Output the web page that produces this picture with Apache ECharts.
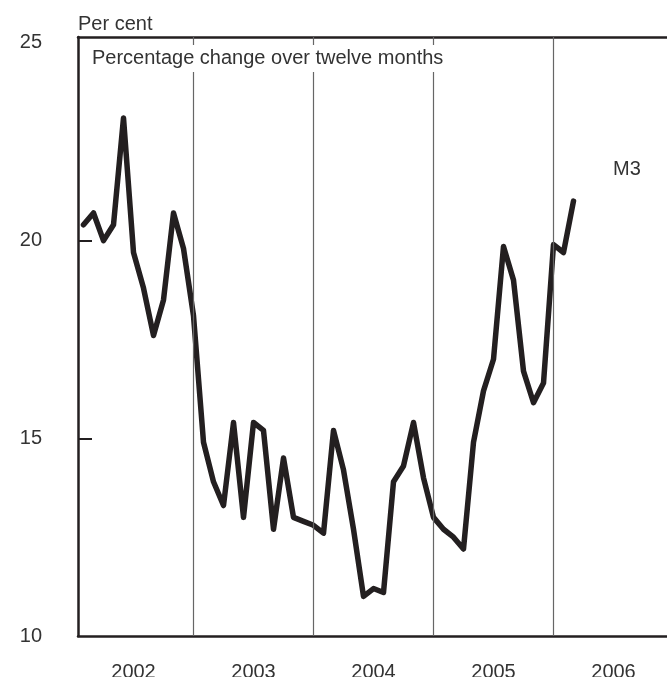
<!DOCTYPE html>
<html>
<head>
<meta charset="utf-8">
<script src="https://cdn.jsdelivr.net/npm/echarts@6/dist/echarts.min.js"></script>
<style>
  html, body { margin: 0; padding: 0; background: #fff; }
  #m3Line { width: 667px; height: 677px; }
</style>
</head>
<body>
<div id="m3Line"></div>
<script>
// monthly, Jan 2002 .. Feb 2006, percentage change over twelve months
const years = ['2002', '2003', '2004', '2005', '2006'];
const yTicks = [10, 15, 20, 25];
const m3 = [
  20.4, 20.7, 20.0, 20.4, 23.1, 19.7, 18.8, 17.6, 18.5, 20.7, 19.8, 18.1,
  14.9, 13.9, 13.3, 15.4, 13.0, 15.4, 15.2, 12.7, 14.5, 13.0, 12.9, 12.8,
  12.6, 15.2, 14.2, 12.7, 11.0, 11.2, 11.1, 13.9, 14.3, 15.4, 14.0, 13.0,
  12.7, 12.5, 12.2, 14.9, 16.2, 17.0, 19.85, 19.0, 16.7, 15.9, 16.4, 19.9,
  19.7, 21.0
];

// x axis runs in months from start of 2002; points sit at month end
const yearMid = years.map((y, i) => i * 12 + 6);
const yearEdges = [12, 24, 36, 48];
const points = m3.map((v, i) => [i + 1, v]);

const font = 'Liberation Sans, Arial, sans-serif';
const ink = '#231f20';

const chart = echarts.init(document.getElementById('m3Line'));
chart.setOption({
  animation: false,
  backgroundColor: '#fff',
  textStyle: { fontFamily: font },
  title: [{
    text: 'Percentage change over twelve months',
    left: 88,
    top: 45,
    padding: [3, 4, 4, 4],
    backgroundColor: '#fff',
    textStyle: { fontSize: 20, fontWeight: 'normal', color: '#333', fontFamily: font, lineHeight: 20 }
  }, {
    text: 'M3',
    left: 613,
    top: 159,
    padding: 0,
    textStyle: { fontSize: 20, fontWeight: 'normal', color: '#333', fontFamily: font, lineHeight: 20 }
  }],
  grid: { left: 78, right: 0, top: 37, bottom: 41, containLabel: false, outerBoundsMode: 'none' },
  xAxis: [{
    type: 'value',
    min: 0.45,
    max: 59.35,
    position: 'bottom',
    axisLine: { lineStyle: { color: ink, width: 2.5 } },
    axisTick: { show: false },
    splitLine: { show: false },
    axisLabel: {
      customValues: yearMid,
      formatter: v => years[yearMid.indexOf(v)],
      margin: 26,
      fontSize: 20,
      color: '#333',
      fontFamily: font
    }
  }, {
    type: 'value',
    min: 0.45,
    max: 59.35,
    position: 'top',
    axisLine: { show: true, lineStyle: { color: ink, width: 2.5 } },
    axisTick: { show: false },
    axisLabel: { show: false },
    splitLine: { show: false }
  }],
  yAxis: {
    type: 'value',
    min: 10,
    max: 25.15,
    name: 'Per cent',
    nameLocation: 'end',
    nameGap: 13,
    nameTextStyle: { align: 'left', verticalAlign: 'middle', fontSize: 20, color: '#333', fontFamily: font },
    axisLine: { show: true, lineStyle: { color: ink, width: 2.5 } },
    axisTick: { show: true, inside: true, length: 14, customValues: [15, 20], lineStyle: { color: ink, width: 2 } },
    splitLine: { show: false },
    axisLabel: { customValues: yTicks, margin: 36, fontSize: 20, color: '#333', fontFamily: font }
  },
  series: [{
    // year dividers, drawn first so the line sits on top
    type: 'line',
    data: [],
    silent: true,
    markLine: {
      silent: true,
      symbol: 'none',
      label: { show: false },
      lineStyle: { color: '#666', width: 1.2, type: 'solid' },
      data: yearEdges.map(x => ({ xAxis: x }))
    }
  }, {
    name: 'M3',
    type: 'line',
    symbol: 'none',
    data: points,
    lineStyle: { color: ink, width: 5.5, join: 'round', cap: 'round' }
  }]
});
</script>
</body>
</html>
